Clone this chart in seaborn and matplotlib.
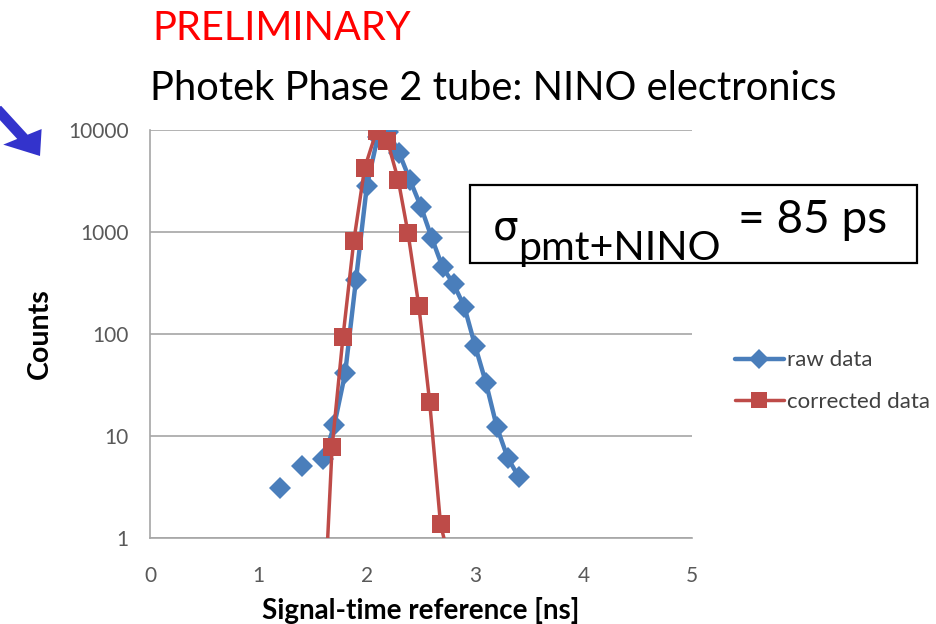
import numpy as np
import pandas as pd
import matplotlib
matplotlib.use("Agg")
import matplotlib.pyplot as plt
import seaborn as sns
from matplotlib.lines import Line2D
from matplotlib.patches import Rectangle, FancyArrow

# ---- data ----
raw_x = [1.2, 1.3, 1.4, 1.5, 1.6, 1.7, 1.8, 1.9, 2.0, 2.1, 2.2, 2.3, 2.4,
         2.5, 2.6, 2.7, 2.8, 2.9, 3.0, 3.1, 3.2, 3.3, 3.4]
raw_y = [3.1, np.nan, 5.1, np.nan, 5.9, 12.8, 41, 340, 2800, 8500, 9600, 5900,
         3200, 1760, 870, 450, 310, 185, 76, 33, 12.2, 6.1, 4.0]

cor_x = [1.58, 1.68, 1.78, 1.88, 1.98, 2.09, 2.19, 2.29, 2.38, 2.48, 2.58, 2.68, 2.78]
cor_y = [0.05, 7.8, 93, 815, 4230, 9800, 7800, 3240, 980, 188, 21.5, 1.37, 0.5]

x_ticks = [0, 1, 2, 3, 4, 5]
y_ticks = [1, 10, 100, 1000, 10000]
y_tick_labels = ["1", "10", "100", "1000", "10000"]

series_names = ["raw data", "corrected data"]
title_top = "PRELIMINARY"
title_main = "Photek Phase 2 tube: NINO electronics"
x_label = "Signal-time reference [ns]"
y_label = "Counts"
sigma_sym = "σ"
sigma_sub = "pmt+NINO"
sigma_val = "= 85 ps"

BLUE = "#4a7ebb"
RED = "#be4b48"
GRID = "#a6a6a6"
TICKC = "#595959"

sns.set_theme(style="white")
plt.rcParams["font.family"] = ["Lato", "DejaVu Sans"]

W, H = 937, 624
fig = plt.figure(figsize=(W / 100, H / 100), dpi=100)


def fx(px):
    return px / W


def fy(py):
    return 1 - py / H


ax = fig.add_axes([fx(150), fy(538), fx(692) - fx(150), fy(130) - fy(538)])

raw = pd.DataFrame({"x": raw_x, "y": raw_y})
raw["seg"] = raw["y"].isna().cumsum()
raw = raw.dropna()
cor = pd.DataFrame({"x": cor_x, "y": cor_y, "seg": 0})

sns.lineplot(data=raw, x="x", y="y", units="seg", estimator=None, sort=False,
             color=BLUE, lw=3.2, marker="D", markersize=11,
             markeredgewidth=0, ax=ax, legend=False, zorder=3)
sns.lineplot(data=cor, x="x", y="y", units="seg", estimator=None, sort=False,
             color=RED, lw=2.5, marker="s", markersize=12.5,
             markeredgewidth=0, ax=ax, legend=False, zorder=4)

ax.set_yscale("log")
ax.set_xlim(0, 5)
ax.set_ylim(1, 10000)
ax.set_xticks(x_ticks)
ax.set_xticklabels([str(v) for v in x_ticks])
ax.set_yticks(y_ticks)
ax.set_yticklabels(y_tick_labels)
ax.minorticks_off()
ax.yaxis.grid(True, color=GRID, lw=1.2)
ax.xaxis.grid(False)
for s in ["top", "right"]:
    ax.spines[s].set_visible(False)
for s in ["left", "bottom"]:
    ax.spines[s].set_color(GRID)
    ax.spines[s].set_linewidth(1.2)
ax.tick_params(axis="both", which="major", direction="out", length=5.5,
               width=1.0, color=GRID, labelsize=15, labelcolor=TICKC)
ax.tick_params(axis="y", pad=10)
ax.tick_params(axis="x", pad=15)
ax.set_xlabel("")
ax.set_ylabel("")

fig.text(fx(421), fy(610), x_label, ha="center", va="center",
         fontsize=20, fontweight="bold", color="black")
fig.text(fx(40), fy(334), y_label, ha="center", va="center", rotation=90,
         fontsize=20.5, fontweight="bold", color="black")

fig.text(fx(152), fy(40), title_top, ha="left", va="baseline",
         fontsize=28.7, color="#ff0000")
fig.text(fx(150), fy(100), title_main, ha="left", va="baseline",
         fontsize=28.7, color="black")

# sigma box
fig.patches.append(Rectangle((fx(470), fy(263)), fx(917) - fx(470), fy(185) - fy(263),
                             transform=fig.transFigure, fill=True, facecolor="white",
                             edgecolor="black", lw=1.6, zorder=5))
fig.text(fx(493), fy(240), sigma_sym, ha="left", va="baseline", fontsize=29,
         family=["DejaVu Sans"], color="black", zorder=6)
fig.text(fx(518), fy(260), sigma_sub, ha="left", va="baseline", fontsize=29.6,
         color="black", zorder=6)
fig.text(fx(738), fy(233), sigma_val, ha="left", va="baseline", fontsize=33,
         color="black", zorder=6)

# legend
handles = [
    Line2D([], [], color=BLUE, lw=3.2, marker="D", markersize=10, markeredgewidth=0),
    Line2D([], [], color=RED, lw=2.5, marker="s", markersize=12, markeredgewidth=0),
]
fig.legend(handles, series_names, loc="center left",
           bbox_to_anchor=(fx(735), fy(381)), frameon=False, fontsize=16,
           handlelength=2.2, handletextpad=0.15, labelspacing=0.95,
           labelcolor="#404040", borderaxespad=0, borderpad=0)

# blue arrow at top-left
fig.patches.append(FancyArrow(fx(-4), fy(108), fx(40) - fx(-4), fy(156) - fy(108),
                              width=0.013, head_width=0.048, head_length=0.036,
                              length_includes_head=True, transform=fig.transFigure,
                              color="#3333cc", lw=0))

fig.savefig("out.png", dpi=100)
